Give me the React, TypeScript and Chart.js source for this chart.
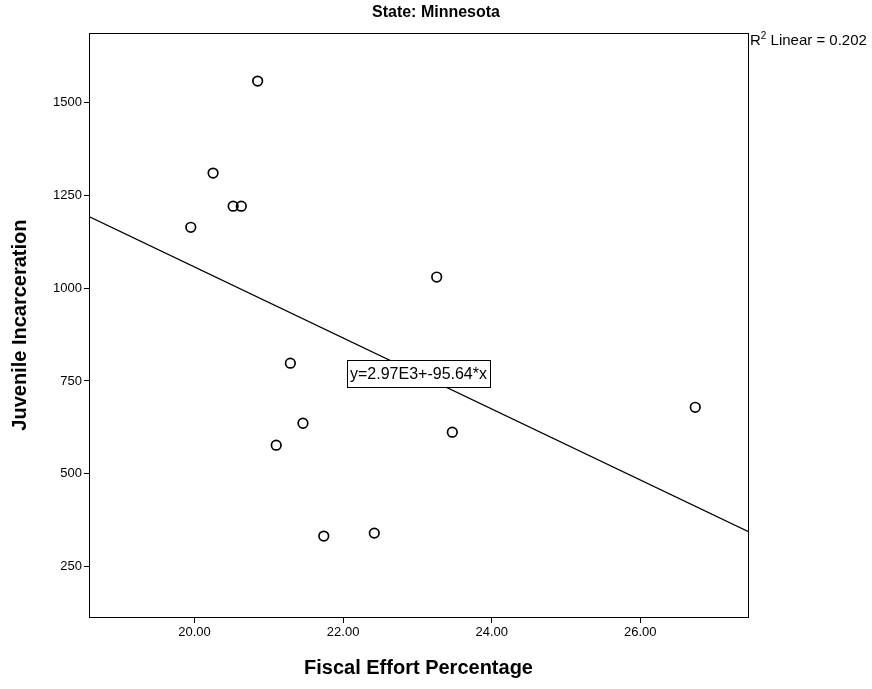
import { useEffect, useRef } from "react";
import { Chart, registerables } from "chart.js";

Chart.register(...registerables);

// ---- data ----
const FISCAL_EFFORT = [20.85, 20.25, 20.52, 20.63, 19.95, 23.26, 21.29, 21.46, 21.1, 23.47, 26.74, 21.74, 22.42];
const JUVENILE_INCARCERATION = [1558, 1310, 1221, 1221, 1164, 1030, 798, 636, 577, 612, 679, 332, 340];
const X_TICKS = [20, 22, 24, 26];
const Y_TICKS = [250, 500, 750, 1000, 1250, 1500];
const X_RANGE = [18.58, 27.45];
const Y_RANGE = [114, 1687];
const FIT_INTERCEPT = 2970;
const FIT_SLOPE = -95.64;
const FIT_LABEL = "y=2.97E3+-95.64*x";
const R2_PARTS = ["R", "2", " Linear = 0.202"];
const TITLE = "State: Minnesota";
const X_TITLE = "Fiscal Effort Percentage";
const Y_TITLE = "Juvenile Incarceration";

const FONT = "'Liberation Sans', Arial, Helvetica, sans-serif";

const framePlugin = {
  id: "frame",
  afterDraw(chart: any) {
    const { ctx, chartArea } = chart;
    ctx.save();
    ctx.strokeStyle = "#000";
    ctx.lineWidth = 1;
    ctx.strokeRect(
      Math.round(chartArea.left) + 0.5,
      Math.round(chartArea.top) + 0.5,
      Math.round(chartArea.right - chartArea.left),
      Math.round(chartArea.bottom - chartArea.top)
    );
    ctx.restore();
  },
};

const labelPlugin = {
  id: "fitLabels",
  afterDatasetsDraw(chart: any) {
    const { ctx, chartArea, scales } = chart;
    const xs = scales.x;
    const ys = scales.y;
    ctx.save();
    // equation box centred on the middle of the fit line
    const midX = (X_RANGE[0] + X_RANGE[1]) / 2;
    const midY = FIT_INTERCEPT + FIT_SLOPE * midX;
    const px = xs.getPixelForValue(midX);
    const py = ys.getPixelForValue(midY);
    ctx.font = `16px ${FONT}`;
    const w = ctx.measureText(FIT_LABEL).width;
    const bw = w + 6;
    const bh = 27;
    const bx = Math.round(px - bw / 2) + 0.5;
    const by = Math.round(py - bh / 2) + 0.5;
    ctx.fillStyle = "#fff";
    ctx.fillRect(bx, by, bw, bh);
    ctx.strokeStyle = "#000";
    ctx.lineWidth = 1;
    ctx.strokeRect(bx, by, bw, bh);
    ctx.fillStyle = "#000";
    ctx.textAlign = "center";
    ctx.textBaseline = "middle";
    ctx.fillText(FIT_LABEL, px, py + 1);

    // R² label at the top right, outside the plot
    let x = chartArea.right + 2;
    const y = chartArea.top + 8;
    ctx.textAlign = "left";
    ctx.font = `15px ${FONT}`;
    ctx.fillText(R2_PARTS[0], x, y);
    x += ctx.measureText(R2_PARTS[0]).width;
    ctx.font = `10px ${FONT}`;
    ctx.fillText(R2_PARTS[1], x, y - 5);
    x += ctx.measureText(R2_PARTS[1]).width;
    ctx.font = `15px ${FONT}`;
    ctx.fillText(R2_PARTS[2], x, y);
    ctx.restore();
  },
};

export default function App() {
  const ref = useRef<HTMLCanvasElement | null>(null);

  useEffect(() => {
    document.body.style.margin = "0";
    document.body.style.overflow = "hidden";
    const canvas = ref.current;
    if (!canvas) return;
    const points = FISCAL_EFFORT.map((x, i) => ({ x, y: JUVENILE_INCARCERATION[i] }));
    const fit = X_RANGE.map((x) => ({ x, y: FIT_INTERCEPT + FIT_SLOPE * x }));

    const tickFont = { family: FONT, size: 13 };
    const titleFont = { family: FONT, size: 20, weight: "bold" as const };

    const chart = new Chart(canvas, {
      type: "scatter",
      data: {
        datasets: [
          {
            type: "line",
            data: fit,
            borderColor: "#000",
            borderWidth: 1.3,
            pointRadius: 0,
            fill: false,
            order: 2,
          } as any,
          {
            data: points,
            pointRadius: 4.8,
            pointBorderWidth: 1.7,
            pointBackgroundColor: "rgba(255,255,255,0)",
            pointBorderColor: "#000",
            order: 1,
          },
        ],
      },
      options: {
        animation: false,
        responsive: false,
        maintainAspectRatio: false,
        layout: { padding: 0 },
        plugins: {
          legend: { display: false },
          tooltip: { enabled: false },
          title: {
            display: true,
            text: TITLE,
            color: "#000",
            font: { family: FONT, size: 16, weight: "bold" },
            padding: { top: 3, bottom: 11 },
          },
        },
        scales: {
          x: {
            type: "linear",
            min: X_RANGE[0],
            max: X_RANGE[1],
            afterBuildTicks: (s: any) => {
              s.ticks = X_TICKS.map((v) => ({ value: v }));
            },
            afterFit: (s: any) => {
              s.height = 72;
            },
            ticks: {
              callback: (v: any) => Number(v).toFixed(2),
              color: "#000",
              font: tickFont,
              padding: 2,
              maxRotation: 0,
              autoSkip: false,
            },
            grid: { drawOnChartArea: false, drawTicks: true, tickLength: 6, color: "#000" },
            border: { color: "#000", width: 1 },
            title: {
              display: true,
              text: X_TITLE,
              color: "#000",
              font: titleFont,
              padding: { top: 0, bottom: 9 },
            },
          },
          y: {
            type: "linear",
            min: Y_RANGE[0],
            max: Y_RANGE[1],
            afterBuildTicks: (s: any) => {
              s.ticks = Y_TICKS.map((v) => ({ value: v }));
            },
            afterFit: (s: any) => {
              s.width = 89;
            },
            ticks: {
              callback: (v: any) => String(v),
              color: "#000",
              font: tickFont,
              padding: 2,
              autoSkip: false,
            },
            grid: { drawOnChartArea: false, drawTicks: true, tickLength: 5, color: "#000" },
            border: { color: "#000", width: 1 },
            title: {
              display: true,
              text: Y_TITLE,
              color: "#000",
              font: titleFont,
              padding: { top: 8, bottom: 0 },
            },
          },
          // empty right-hand gutter that holds the R² label
          gutter: {
            type: "linear",
            position: "right",
            display: true,
            ticks: { display: false },
            grid: { display: false, drawTicks: false },
            border: { display: false },
            afterFit: (s: any) => {
              s.width = 124;
            },
          },
        },
      },
      plugins: [framePlugin, labelPlugin],
    });
    return () => chart.destroy();
  }, []);

  return (
    <div style={{ width: 872, height: 689 }}>
      <canvas ref={ref} width={872} height={689} style={{ width: 872, height: 689, display: "block" }} />
    </div>
  );
}
